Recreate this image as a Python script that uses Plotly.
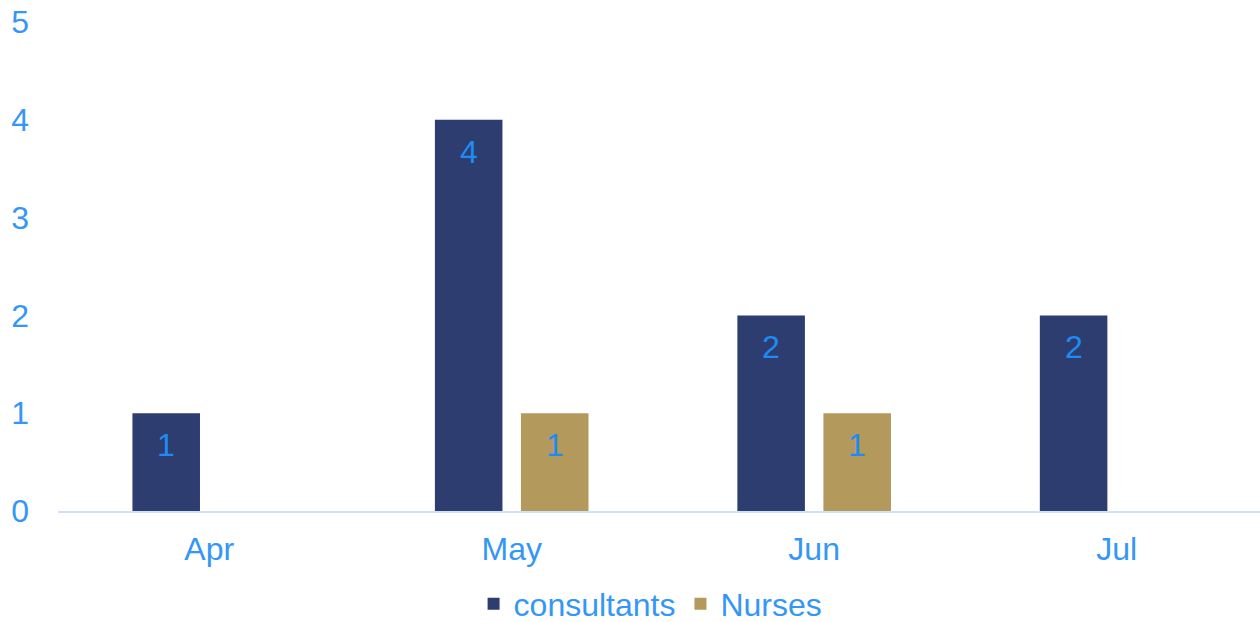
import plotly.graph_objects as go

months = ["Apr", "May", "Jun", "Jul"]
consultants = [1, 4, 2, 2]
nurses = [None, 1, 1, None]
y_ticks = [0, 1, 2, 3, 4, 5]

c_cons = "#2E3D6F"
c_nurse = "#B39A5C"
txt_col = "#3497F7"
lbl_col = "#1E8BF5"
FONT = "Liberation Sans, Arial, sans-serif"

fig = go.Figure()
fig.add_trace(go.Bar(x=months, y=consultants, name="consultants", marker_color=c_cons,
                     marker_line_width=0))
fig.add_trace(go.Bar(x=months, y=nurses, name="Nurses", marker_color=c_nurse,
                     marker_line_width=0))

annotations = []
for series, shift in ((consultants, -43), (nurses, 43)):
    for m, v in zip(months, series):
        if v is None:
            continue
        annotations.append(dict(x=m, y=v, xref="x", yref="y", text=str(v), showarrow=False,
                                xshift=shift, yshift=-32, yanchor="middle",
                                font=dict(size=32, color=lbl_col, family=FONT)))

fig.update_layout(
    width=1260, height=622,
    margin=dict(l=58, r=0, t=22, b=111, autoexpand=False),
    paper_bgcolor="white", plot_bgcolor="white",
    barmode="group", bargap=0.431, bargroupgap=0.215,
    font=dict(family=FONT, size=32, color=txt_col),
    showlegend=True,
    legend=dict(orientation="h", x=0.493, xanchor="center", y=-0.19, yanchor="middle",
                font=dict(size=32, color=txt_col), itemsizing="constant",
                bgcolor="rgba(0,0,0,0)"),
    annotations=annotations,
    xaxis=dict(range=[-0.5, 3.474], showgrid=False, showline=True, linecolor="#CFE3F8",
               linewidth=2, ticks="", ticklabelstandoff=9, zeroline=False, automargin=False),
    yaxis=dict(range=[0, 5], tickvals=y_ticks, showgrid=False, zeroline=False,
               showline=False, ticks="", ticklabelstandoff=28, automargin=False),
)

fig.write_html("out.html")
